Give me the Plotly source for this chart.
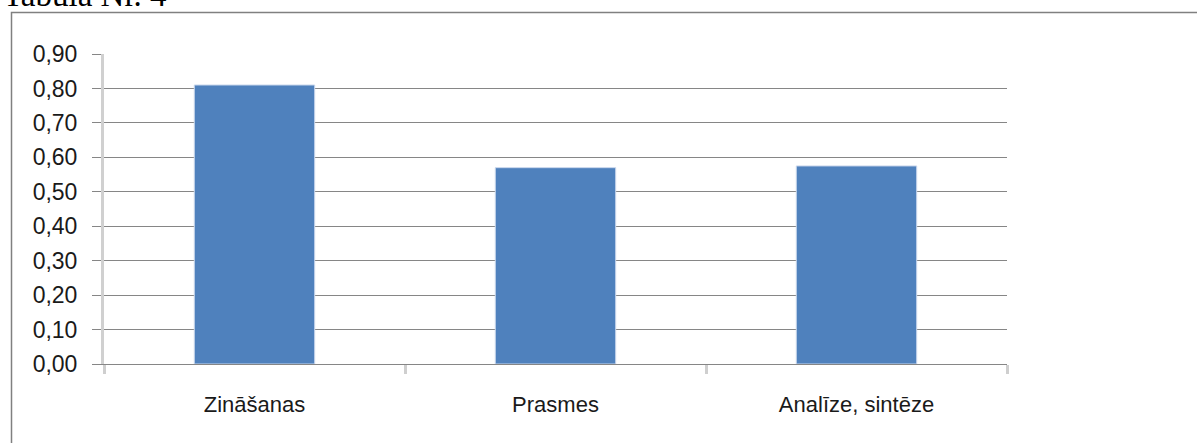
import plotly.graph_objects as go

categories = ["Zināšanas", "Prasmes", "Analīze, sintēze"]
values = [0.81, 0.57, 0.575]
y_ticks = [0.0, 0.1, 0.2, 0.3, 0.4, 0.5, 0.6, 0.7, 0.8, 0.9]
title_text = "Tabula Nr. 4"

W, H = 1197, 443
L, R, T, B = 104, 190, 54, 79
pw, ph = W - L - R, H - T - B

def px_x(x):
    return (x - L) / pw

def px_y(y):
    return (H - B - y) / ph

fig = go.Figure(go.Bar(
    x=categories, y=values,
    marker=dict(color="#4f81bd", line=dict(color="#c9d7ec", width=1)),
    hoverinfo="skip",
))

font = "Liberation Sans, Arial, sans-serif"

fig.update_layout(
    width=W, height=H,
    margin=dict(l=L, r=R, t=T, b=B, pad=0),
    paper_bgcolor="#ffffff", plot_bgcolor="#ffffff",
    separators=", ",
    bargap=0.6,
    showlegend=False,
    font=dict(family=font, size=22, color="#1a1a1a"),
    xaxis=dict(
        type="category", range=[-0.5, 2.5],
        showline=True, linecolor="#868686", linewidth=1,
        ticks="outside", tickson="boundaries", ticklen=9,
        tickcolor="#cfcfcf", tickwidth=3,
        showgrid=False, zeroline=False,
        tickfont=dict(family=font, size=22, color="#1a1a1a"),
        ticklabelstandoff=21,
    ),
    yaxis=dict(
        range=[0, 0.9], tickvals=y_ticks, tickformat=".2f",
        showline=True, linecolor="#d0d0d0", linewidth=3,
        ticks="outside", ticklen=9, tickcolor="#868686", tickwidth=1,
        showgrid=True, gridcolor="#868686", gridwidth=1,
        zeroline=False,
        tickfont=dict(family=font, size=23, color="#1a1a1a"),
        ticklabelstandoff=10,
    ),
    shapes=[dict(
        type="rect", xref="paper", yref="paper",
        x0=px_x(11.5), x1=px_x(1210), y0=px_y(460), y1=px_y(12.5),
        line=dict(color="#808080", width=1.5), fillcolor="rgba(0,0,0,0)",
        layer="below",
    )],
    annotations=[dict(
        text=title_text, xref="paper", yref="paper",
        x=px_x(1), y=px_y(15), xanchor="left", yanchor="bottom",
        showarrow=False,
        font=dict(family="Liberation Serif, Times New Roman, serif", size=33, color="#000000"),
    )],
)

fig.write_html(
    "out.html",
    config={"displayModeBar": False},
    post_script="document.body.style.margin='0';document.body.style.overflow='hidden';",
)
